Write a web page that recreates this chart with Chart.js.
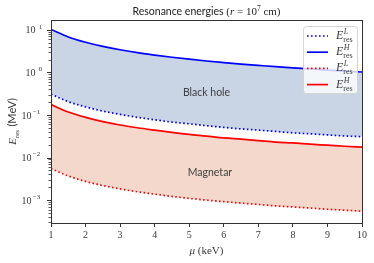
<!DOCTYPE html>
<html>
<head>
<meta charset="utf-8">
<script src="https://cdn.jsdelivr.net/npm/chart.js@4.4.1/dist/chart.umd.min.js"></script>
<style>
  html, body { margin: 0; padding: 0; background: #fff; }
</style>
</head>
<body>
<canvas id="resChart" width="374" height="263"></canvas>
<script>
// mu in keV
const mu = [1, 1.5, 2, 2.5, 3, 3.5, 4, 4.5, 5, 5.5, 6, 6.5, 7, 7.5, 8, 8.5, 9, 9.5, 10];

// resonance energies in MeV
const bhHigh = [10.2, 6.8, 5.1, 4.1, 3.4, 2.9, 2.55, 2.27, 2.04, 1.85, 1.7, 1.57, 1.46, 1.36, 1.28, 1.2, 1.13, 1.07, 1.02];
const bhLow = [0.31, 0.205, 0.155, 0.123, 0.103, 0.088, 0.077, 0.068, 0.062, 0.056, 0.051, 0.047, 0.044, 0.041, 0.038, 0.036, 0.034, 0.032, 0.031];
const magHigh = [0.175, 0.117, 0.088, 0.07, 0.058, 0.05, 0.044, 0.039, 0.035, 0.032, 0.029, 0.027, 0.025, 0.023, 0.022, 0.0206, 0.0195, 0.0184, 0.0175];
const magLow = [0.0055, 0.0037, 0.00275, 0.0022, 0.00183, 0.00157, 0.00138, 0.00122, 0.0011, 0.001, 0.00092, 0.00085, 0.00079, 0.00073, 0.00069, 0.00065, 0.00061, 0.00058, 0.00055];

const xTicks = [1, 2, 3, 4, 5, 6, 7, 8, 9, 10];
const yPowers = [1, 0, -1, -2, -3];

// region labels (data coords)
const regionLabels = [
  { text: "Black hole", x: 5.5, y: 0.34 },
  { text: "Magnetar", x: 5.6, y: 0.0044 }
];

const BLUE = "#0000ff";
const RED = "#ff0000";
const SERIF = "'Liberation Serif', serif";
const SANS = "Lato, sans-serif";
const TXT = "#3a3a3a";

function isRoundTick(v) {
  const e = Math.floor(Math.log10(v) + 1e-9);
  const s = v / Math.pow(10, e);
  return Math.abs(s - Math.round(s)) < 1e-6;
}

// draw a run of text pieces, each with its own font and vertical shift
function drawParts(ctx, parts, x, y, align) {
  let w = 0;
  parts.forEach(p => { ctx.font = p.font; p.w = ctx.measureText(p.t).width; w += p.w; });
  let cx = align === "center" ? x - w / 2 : (align === "right" ? x - w : x);
  parts.forEach(p => { ctx.font = p.font; ctx.fillText(p.t, cx, y + (p.dy || 0)); cx += p.w; });
  return w;
}

// E^{sup}_{res}
function drawEres(ctx, x, y, sup, size) {
  ctx.textAlign = "left";
  ctx.textBaseline = "alphabetic";
  ctx.font = "italic " + size + "px " + SERIF;
  ctx.fillText("E", x, y);
  const w = ctx.measureText("E").width;
  const small = Math.round(size * 0.68);
  let ws = 0;
  if (sup) {
    ctx.font = "italic " + small + "px " + SERIF;
    ctx.fillText(sup, x + w + 0.5, y - size * 0.42);
    ws = ctx.measureText(sup).width;
  }
  ctx.font = small + "px " + SERIF;
  ctx.fillText("res", x + w, y + size * 0.25);
  return w + Math.max(ws, ctx.measureText("res").width);
}

const extras = {
  id: "extras",
  afterDatasetsDraw(chart) {
    const ctx = chart.ctx;
    const a = chart.chartArea;
    const xs = chart.scales.x;
    const ys = chart.scales.y;
    ctx.save();

    // region labels
    ctx.fillStyle = "#404040";
    ctx.font = "10.5px " + SANS;
    ctx.textAlign = "center";
    ctx.textBaseline = "middle";
    regionLabels.forEach(r => {
      ctx.fillText(r.text, xs.getPixelForValue(r.x), ys.getPixelForValue(r.y));
    });

    // frame
    ctx.strokeStyle = "#333";
    ctx.lineWidth = 1;
    ctx.strokeRect(Math.round(a.left) + 0.5, Math.round(a.top) + 0.5,
      Math.round(a.right - a.left), Math.round(a.bottom - a.top));

    // y ticks: majors and minors
    ys.ticks.forEach(t => {
      const py = Math.round(ys.getPixelForValue(t.value)) + 0.5;
      const major = Math.abs(Math.log10(t.value) - Math.round(Math.log10(t.value))) < 1e-6;
      const len = major ? 4 : 2.5;
      ctx.beginPath();
      ctx.moveTo(a.left, py);
      ctx.lineTo(a.left - len, py);
      ctx.lineWidth = major ? 1 : 0.8;
      ctx.stroke();
    });

    // y tick labels 10^p
    ctx.fillStyle = TXT;
    ctx.textBaseline = "middle";
    yPowers.forEach(p => {
      const py = ys.getPixelForValue(Math.pow(10, p));
      const exp = p < 0 ? "\u2212" + (-p) : String(p);
      drawParts(ctx, [
        { t: "10", font: "10px " + SERIF, dy: 1 },
        { t: exp, font: "7px " + SERIF, dy: -3 }
      ], a.left - 7, py, "right");
    });

    // legend
    const lx = 303, ly = 26, lw = 54, lh = 67;
    ctx.beginPath();
    ctx.roundRect(lx + 0.5, ly + 0.5, lw, lh, 3);
    ctx.fillStyle = "rgba(255,255,255,0.8)";
    ctx.fill();
    ctx.strokeStyle = "#d4d4d4";
    ctx.lineWidth = 1;
    ctx.stroke();
    const items = [
      { c: BLUE, dash: [1.6, 2.4], sup: "L" },
      { c: BLUE, dash: [], sup: "H" },
      { c: RED, dash: [1.6, 2.4], sup: "L" },
      { c: RED, dash: [], sup: "H" }
    ];
    items.forEach((it, i) => {
      const yy = ly + 10 + i * 16.2;
      ctx.beginPath();
      ctx.setLineDash(it.dash);
      ctx.strokeStyle = it.c;
      ctx.lineWidth = 1.7;
      ctx.moveTo(307, yy);
      ctx.lineTo(328, yy);
      ctx.stroke();
      ctx.setLineDash([]);
      ctx.fillStyle = TXT;
      drawEres(ctx, 336, yy + 3, it.sup, 12);
    });

    // title
    ctx.fillStyle = "#222";
    ctx.textBaseline = "alphabetic";
    drawParts(ctx, [
      { t: "Resonance energies ", font: "10.5px " + SANS },
      { t: "(", font: "11px " + SERIF },
      { t: "r", font: "italic 11px " + SERIF },
      { t: " = 10", font: "11px " + SERIF },
      { t: "7", font: "7.5px " + SERIF, dy: -4 },
      { t: " cm)", font: "11px " + SERIF }
    ], (a.left + a.right) / 2, 15, "center");

    // x title
    ctx.fillStyle = TXT;
    drawParts(ctx, [
      { t: "\u03bc", font: "italic 11px " + SERIF },
      { t: " (keV)", font: "11px " + SERIF }
    ], (a.left + a.right) / 2, 254, "center");

    // y title
    ctx.save();
    ctx.translate(16, (a.top + a.bottom) / 2);
    ctx.rotate(-Math.PI / 2);
    ctx.font = "italic 11px " + SERIF;
    const wE = ctx.measureText("E").width;
    ctx.font = "7.5px " + SERIF;
    const wR = ctx.measureText("res").width;
    ctx.font = "11px " + SANS;
    const wM = ctx.measureText(" (MeV)").width;
    const x0 = -(wE + wR + wM) / 2;
    drawEres(ctx, x0, 0, null, 11);
    ctx.font = "11px " + SANS;
    ctx.fillText(" (MeV)", x0 + wE + wR, 0);
    ctx.restore();

    ctx.restore();
  }
};

function line(label, data, color, dashed, fill, fillColor) {
  return {
    label: label,
    data: data,
    borderColor: color,
    borderWidth: 1.7,
    borderDash: dashed ? [1.6, 2.4] : [],
    pointRadius: 0,
    cubicInterpolationMode: "monotone",
    fill: fill,
    backgroundColor: fillColor || "transparent"
  };
}

new Chart(document.getElementById("resChart"), {
  type: "line",
  data: {
    labels: mu,
    datasets: [
      line("E_res^L black hole", bhLow, BLUE, true, false),
      line("E_res^H black hole", bhHigh, BLUE, false, 0, "rgb(201,212,229)"),
      line("E_res^L magnetar", magLow, RED, true, false),
      line("E_res^H magnetar", magHigh, RED, false, 2, "rgb(244,216,203)")
    ]
  },
  options: {
    responsive: false,
    animation: false,
    devicePixelRatio: 1,
    layout: { padding: { top: 20, right: 12, left: 0, bottom: 0 } },
    plugins: {
      legend: { display: false },
      tooltip: { enabled: false },
      filler: { propagate: false }
    },
    scales: {
      x: {
        type: "linear",
        min: 1,
        max: 10,
        afterBuildTicks: s => { s.ticks = xTicks.map(v => ({ value: v })); },
        afterFit: s => { s.height = 40; },
        border: { display: false },
        grid: { drawOnChartArea: false, drawTicks: true, tickLength: 4, color: "#333", tickColor: "#333" },
        ticks: {
          color: TXT,
          padding: 2,
          maxRotation: 0,
          autoSkip: false,
          font: { family: SERIF, size: 10 }
        }
      },
      y: {
        type: "logarithmic",
        min: 2.9e-4,
        max: 17,
        afterBuildTicks: s => { s.ticks = s.ticks.filter(t => isRoundTick(t.value)); },
        afterFit: s => { s.width = 51; },
        border: { display: false },
        grid: { display: false },
        ticks: { display: false, autoSkip: false }
      }
    }
  },
  plugins: [extras]
});
</script>
</body>
</html>
